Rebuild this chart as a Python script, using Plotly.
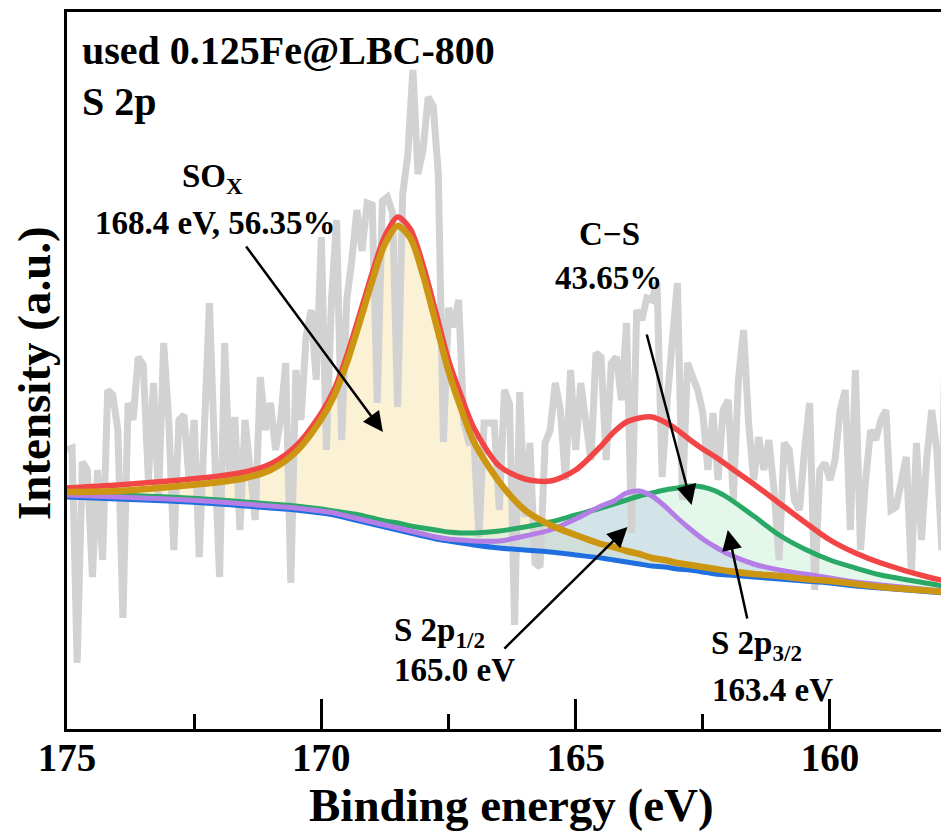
import plotly.graph_objects as go

# ---------------- data ----------------
raw_energy = [
    175.0, 174.9, 174.8, 174.7, 174.6, 174.5, 174.4, 174.3, 174.2, 174.1,
    174.0, 173.9, 173.8, 173.7, 173.6, 173.5, 173.4, 173.3, 173.2, 173.1,
    173.0, 172.9, 172.8, 172.7, 172.6, 172.5, 172.4, 172.3, 172.2, 172.1,
    172.0, 171.9, 171.8, 171.7, 171.6, 171.5, 171.4, 171.3, 171.2, 171.1,
    171.0, 170.9, 170.8, 170.7, 170.6, 170.5, 170.4, 170.3, 170.2, 170.1,
    170.0, 169.9, 169.8, 169.7, 169.6, 169.5, 169.4, 169.3, 169.2, 169.1,
    169.0, 168.9, 168.8, 168.7, 168.6, 168.5, 168.4, 168.3, 168.2, 168.1,
    168.0, 167.9, 167.8, 167.7, 167.6, 167.5, 167.4, 167.3, 167.2, 167.1,
    167.0, 166.9, 166.8, 166.7, 166.6, 166.5, 166.4, 166.3, 166.2, 166.1,
    166.0, 165.9, 165.8, 165.7, 165.6, 165.5, 165.4, 165.3, 165.2, 165.1,
    165.0, 164.9, 164.8, 164.7, 164.6, 164.5, 164.4, 164.3, 164.2, 164.1,
    164.0, 163.9, 163.8, 163.7, 163.6, 163.5, 163.4, 163.3, 163.2, 163.1,
    163.0, 162.9, 162.8, 162.7, 162.6, 162.5, 162.4, 162.3, 162.2, 162.1,
    162.0, 161.9, 161.8, 161.7, 161.6, 161.5, 161.4, 161.3, 161.2, 161.1,
    161.0, 160.9, 160.8, 160.7, 160.6, 160.5, 160.4, 160.3, 160.2, 160.1,
    160.0, 159.9, 159.8, 159.7, 159.6, 159.5, 159.4, 159.3, 159.2, 159.1,
    159.0, 158.9, 158.8, 158.7, 158.6, 158.5, 158.4, 158.3, 158.2, 158.1,
    158.0, 157.9, 157.8, 157.7, 157.6,
]
raw_intensity = [
    279, 281, 66, 267, 259, 152, 259, 169, 339, 334,
    299, 111, 326, 309, 372, 364, 249, 346, 229, 386,
    309, 179, 309, 314, 249, 309, 172, 309, 426, 279,
    152, 386, 249, 312, 199, 309, 259, 209, 352, 299,
    326, 279, 309, 366, 146, 359, 309, 392, 419, 349,
    492, 279, 429, 509, 289, 429, 469, 519, 478, 526,
    524, 326, 528, 532, 516, 322, 535, 574, 659, 555,
    579, 632, 623, 555, 287, 421, 402, 429, 306, 287,
    289, 192, 306, 306, 306, 219, 339, 325, 104, 337,
    212, 286, 166, 162, 286, 299, 346, 319, 249, 359,
    279, 346, 309, 269, 376, 372, 269, 366, 372, 329,
    406, 196, 419, 409, 431, 429, 446, 252, 329, 379,
    446, 229, 366, 352, 339, 316, 259, 316, 249, 319,
    329, 229, 349, 399, 306, 249, 292, 259, 289, 239,
    169, 286, 279, 229, 219, 279, 326, 139, 259, 266,
    249, 269, 319, 339, 199, 359, 179, 249, 299, 289,
    309, 319, 219, 222, 249, 272, 156, 286, 189, 269,
    319, 279, 179, 532, 469,
]

fit_energy = [175, 174, 173, 172, 171.5, 171, 170.5, 170, 169.75, 169.5,
              169.25, 169, 168.75, 168.5, 168.25, 168, 167.75, 167.5, 167.25, 167,
              166.5, 166, 165.5, 165, 164.5, 164.25, 164, 163.75, 163.5, 163.25,
              163, 162.75, 162.5, 162.25, 162, 161.5, 161, 160.5, 160, 159.5,
              159, 158, 157.5]
background = [232, 230, 228, 225, 223, 221, 219, 216, 214, 211,
              208, 205, 202, 199, 196, 193, 190, 188, 186, 184,
              181, 179, 177, 174, 171, 169, 167, 165, 163, 162,
              160, 159, 157, 155, 154, 152, 150, 148, 146, 143,
              141, 137, 135]
sox_fit = [237, 238, 242, 247, 251, 259, 277, 310, 333, 366,
           406, 448, 485, 503, 491, 454, 406, 358, 320, 287,
           247, 219, 204, 194, 185, 182, 178, 175, 171, 169,
           166, 164, 162, 160, 158, 155, 153, 150, 148, 145,
           142, 138, 136]
s2p12_fit = [234, 232, 230, 227, 225, 223, 221, 218, 216, 213,
             210, 207, 204, 201, 198, 195, 192, 190, 189, 188,
             188, 193, 199, 210, 223, 228, 236, 238, 233, 223,
             211, 200, 190, 182, 175, 165, 159, 155, 151, 147,
             144, 139, 137]
s2p32_fit = [236, 234, 232, 229, 227, 225, 223, 220, 218, 216,
             214, 211, 208, 206, 203, 201, 199, 197, 196, 196,
             198, 202, 207, 214, 221, 225, 229, 233, 236, 239,
             241, 243, 242, 238, 231, 213, 194, 180, 169, 161,
             154, 145, 140]
envelope = [241, 244, 248, 253, 257, 265, 283, 316, 339, 373,
            414, 456, 493, 512, 500, 464, 417, 369, 333, 301,
            263, 250, 248, 259, 283, 297, 307, 311, 312, 307,
            299, 289, 280, 272, 263, 245, 226, 207, 189, 176,
            166, 151, 146]

tick_values = [175, 170, 165, 160]

# ---------------- figure ----------------
FONT = "Liberation Serif"
fig = go.Figure()

# filled component areas (drawn first)
fills = [(sox_fit, "rgba(247,225,160,0.45)"),
         (s2p32_fit, "rgba(200,240,215,0.5)"),
         (s2p12_fit, "rgba(180,192,228,0.35)")]
for comp, fc in fills:
    fig.add_trace(go.Scatter(x=fit_energy, y=background, mode="lines",
                             line=dict(width=0, shape="spline"), hoverinfo="skip",
                             showlegend=False))
    fig.add_trace(go.Scatter(x=fit_energy, y=comp, mode="lines",
                             line=dict(width=0, shape="spline"), fill="tonexty",
                             fillcolor=fc, hoverinfo="skip", showlegend=False))

# raw data
fig.add_trace(go.Scatter(x=raw_energy, y=raw_intensity, mode="lines",
                         line=dict(color="#d2d2d2", width=7), showlegend=False))

# fitted lines
lines = [(background, "#1f6fe0", 5),
         (s2p32_fit, "#2aa866", 5),
         (s2p12_fit, "#b47ee6", 5),
         (envelope, "#f24646", 5.5),
         (sox_fit, "#cc9612", 6.5)]
for vals, col, w in lines:
    fig.add_trace(go.Scatter(x=fit_energy, y=vals, mode="lines",
                             line=dict(color=col, width=w, shape="spline", smoothing=0.8),
                             showlegend=False))

txt_font = dict(family=FONT, size=33, color="black", weight="bold")
big_font = dict(family=FONT, size=40, color="black", weight="bold")

annotations = [
    dict(x=174.74, y=679, text="used 0.125Fe@LBC-800", xanchor="left", font=big_font),
    dict(x=174.74, y=628, text="S 2p", xanchor="left", font=big_font),
    dict(x=172.13, y=551, text="SO<sub>X</sub>", font=txt_font),
    dict(x=172.09, y=506, text="168.4 eV, 56.35%", font=txt_font),
    dict(x=164.33, y=495, text="C−S", font=txt_font),
    dict(x=164.35, y=451, text="43.65%", font=txt_font),
    dict(x=168.61, y=97, text="S 2p<sub>1/2</sub>", xanchor="left", font=txt_font),
    dict(x=168.61, y=59, text="165.0 eV", xanchor="left", font=txt_font),
    dict(x=162.37, y=84, text="S 2p<sub>3/2</sub>", xanchor="left", font=txt_font),
    dict(x=162.35, y=39, text="163.4 eV", xanchor="left", font=txt_font),
]
for a in annotations:
    a.update(xref="x", yref="y", showarrow=False)
    fig.add_annotation(**a)

# axis titles as annotations for exact placement
fig.add_annotation(x=0.5045, y=-0.106, xref="paper", yref="paper",
                   text="Binding energy (eV)", showarrow=False,
                   xanchor="center", yanchor="middle",
                   font=dict(family=FONT, size=47, color="black", weight="bold"))
fig.add_annotation(x=-0.0374, y=0.4965, xref="paper", yref="paper",
                   text="Intensity (a.u.)", showarrow=False, textangle=-90,
                   xanchor="center", yanchor="middle",
                   font=dict(family=FONT, size=47, color="black", weight="bold"))

arrows = [
    ((171.50, 484), (168.79, 297)),
    ((163.61, 396), (162.72, 224)),
    ((166.43, 79), (163.98, 202)),
    ((161.62, 109), (162.01, 199)),
]
for (tx, ty), (hx, hy) in arrows:
    fig.add_annotation(x=hx, y=hy, ax=tx, ay=ty, xref="x", yref="y",
                       axref="x", ayref="y", text="", showarrow=True,
                       arrowhead=2, arrowsize=1.6, arrowwidth=2.5,
                       arrowcolor="black", standoff=0)

fig.update_layout(
    width=941, height=826,
    margin=dict(l=59, r=0, t=4, b=105),
    paper_bgcolor="white", plot_bgcolor="white",
    showlegend=False,
    xaxis=dict(range=[175, 157.66], tickvals=tick_values,
               ticks="inside", ticklen=30, tickwidth=3, tickcolor="black",
               minor=dict(dtick=2.5, tick0=175, ticks="inside", ticklen=15,
                          tickwidth=3, tickcolor="black"),
               showline=True, linewidth=3, linecolor="black", mirror=True,
               showgrid=False, zeroline=False,
               tickfont=dict(family=FONT, size=39, color="black", weight="bold"),
               ticklabelstandoff=-8),
    yaxis=dict(range=[0, 717], showticklabels=False, ticks="",
               showline=True, linewidth=3, linecolor="black", mirror=False,
               showgrid=False, zeroline=False),
)

fig.write_html("out.html")
